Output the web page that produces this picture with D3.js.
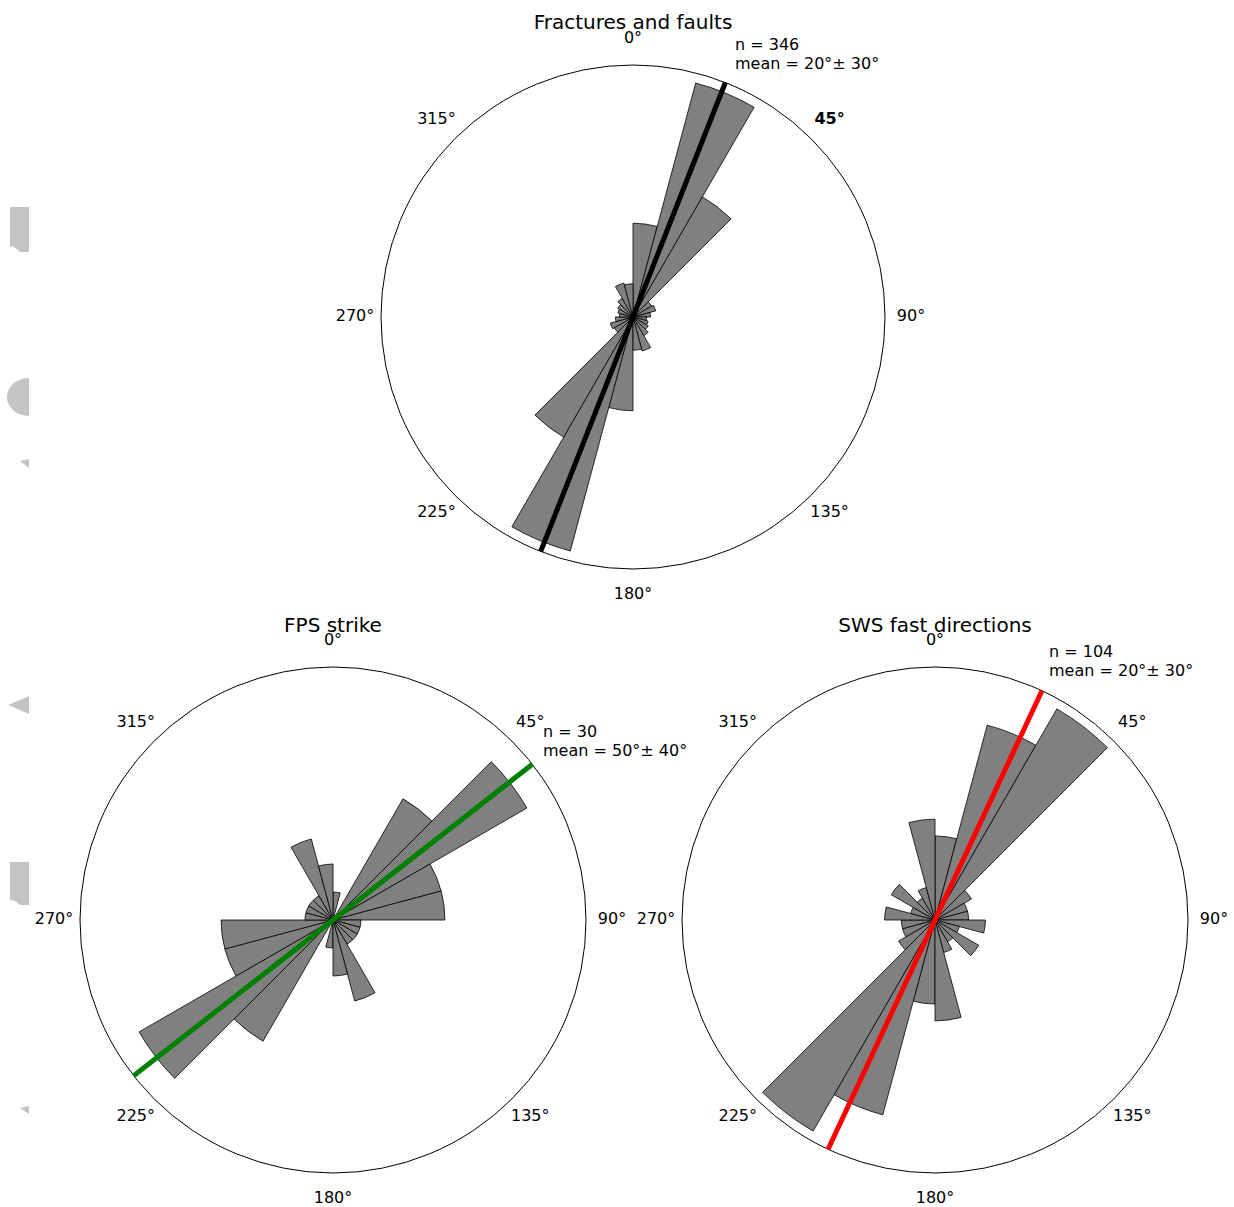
<!DOCTYPE html>
<html>
<head>
<meta charset="utf-8">
<script src="https://cdn.jsdelivr.net/npm/d3@7"></script>
<style>
  html, body { margin: 0; padding: 0; background: #fff; }
  svg { display: block; }
  text { font-family: "DejaVu Sans", sans-serif; fill: #000; }
</style>
</head>
<body>
<svg id="chart" width="1234" height="1207"></svg>
<script>
// ---------------- DATA ----------------
// 15° bin starts for half-rose (axial data, mirrored at +180°)
const binStarts = [0, 15, 30, 45, 60, 75, 90, 105, 120, 135, 150, 165];
const binWidth = 15;

const fracCounts = [48, 124, 71, 11, 12, 9, 7, 8, 9, 11, 18, 17];
const fpsCounts  = [1, 0, 5, 8, 4, 4, 1, 1, 1, 1, 3, 2];
const swsCounts  = [10, 24, 29, 5, 4, 4, 6, 3, 6, 3, 4, 12];

const tickAngles = [0, 45, 90, 135, 180, 225, 270, 315];
const tickLabels = ["0°", "45°", "90°", "135°", "180°", "225°", "270°", "315°"];

const titles = ["Fractures and faults", "FPS strike", "SWS fast directions"];
const nValues = [346, 30, 104];
const meanLabels = ["20°± 30°", "50°± 40°", "20°± 30°"];
const meanAngles = [21.5, 52, 25];

// ---------------- LAYOUT ----------------
const plots = [
  { counts: fracCounts, cx: 633, cy: 317, R: 252, rmax: 129,  color: "#000000", ann: [102, -267], boldTick: 45 },
  { counts: fpsCounts,  cx: 333, cy: 920, R: 253, rmax: 9.04, color: "#008000", ann: [210, -183], boldTick: null },
  { counts: swsCounts,  cx: 935, cy: 920, R: 253, rmax: 30.1, color: "#ff0000", ann: [114, -263], boldTick: null }
];

const svg = d3.select("#chart");
const toRad = d => d * Math.PI / 180;

// faint clipped shapes on the left margin
const ghost = svg.append("g").attr("fill", "#c4c4c4");
[
  "M10,207 H29 V252 H20 Q12,244 10,247 Z",
  "M29,378 A22,19 0 0 0 29,416 Z",
  "M20,461 L29,459 L29,468 Z",
  "M8,705 L29,696 L29,714 Z",
  "M10,862 H29 V905 H20 Q12,898 10,901 Z",
  "M20,1108 L29,1106 L29,1114 Z"
].forEach(d => ghost.append("path").attr("d", d));

plots.forEach((p, k) => {
  const g = svg.append("g").attr("transform", `translate(${p.cx},${p.cy})`);
  const r = d3.scaleLinear().domain([0, p.rmax]).range([0, p.R]);

  // outer circle
  g.append("circle").attr("r", p.R).attr("fill", "none")
    .attr("stroke", "#000").attr("stroke-width", 1);

  // petals (mirrored)
  const petals = [];
  binStarts.forEach((b, i) => {
    petals.push({ start: b, v: p.counts[i] });
    petals.push({ start: b + 180, v: p.counts[i] });
  });
  const arc = d3.arc().innerRadius(0)
    .outerRadius(d => r(d.v))
    .startAngle(d => toRad(d.start))
    .endAngle(d => toRad(d.start + binWidth));
  g.selectAll("path.petal").data(petals.filter(d => d.v > 0)).join("path")
    .attr("class", "petal")
    .attr("d", arc)
    .attr("fill", "#808080")
    .attr("stroke", "#000")
    .attr("stroke-width", 0.8)
    .attr("stroke-linejoin", "miter");

  // mean direction line
  const a = toRad(meanAngles[k]);
  g.append("line")
    .attr("x1", -p.R * Math.sin(a)).attr("y1", p.R * Math.cos(a))
    .attr("x2", p.R * Math.sin(a)).attr("y2", -p.R * Math.cos(a))
    .attr("stroke", p.color).attr("stroke-width", 5);

  // angle labels
  const lr = p.R + 26;
  tickAngles.forEach((t, i) => {
    g.append("text")
      .attr("x", lr * Math.sin(toRad(t)))
      .attr("y", -lr * Math.cos(toRad(t)))
      .attr("dy", "0.24em")
      .attr("text-anchor", "middle")
      .attr("font-size", 16)
      .attr("font-weight", t === p.boldTick ? "bold" : "normal")
      .text(tickLabels[i]);
  });

  // title
  g.append("text")
    .attr("x", 0).attr("y", -288)
    .attr("text-anchor", "middle")
    .attr("font-size", 20)
    .text(titles[k]);

  // annotation
  const ann = g.append("text").attr("font-size", 16)
    .attr("x", p.ann[0]).attr("y", p.ann[1]);
  ann.append("tspan").attr("x", p.ann[0]).attr("y", p.ann[1]).text("n = " + nValues[k]);
  ann.append("tspan").attr("x", p.ann[0]).attr("y", p.ann[1] + 18.5).text("mean = " + meanLabels[k]);
});
</script>
</body>
</html>
